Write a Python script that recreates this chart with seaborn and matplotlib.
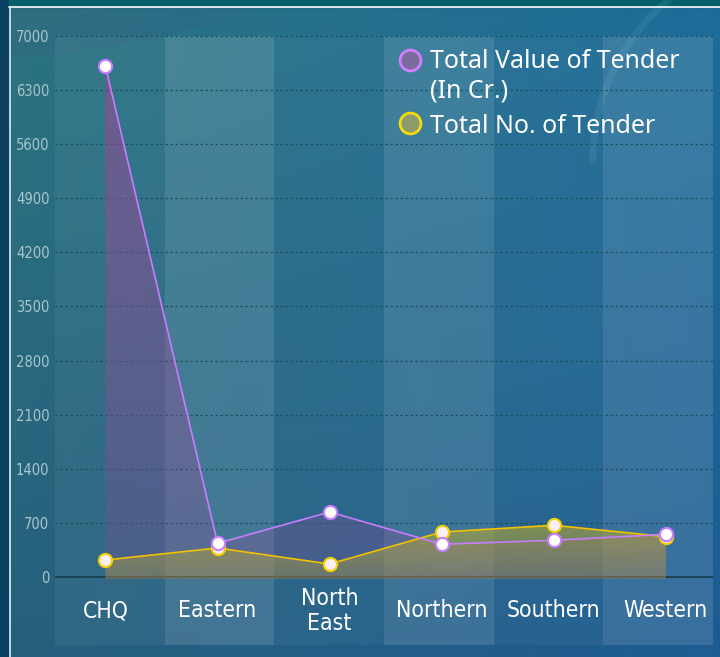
import numpy as np
import pandas as pd
import matplotlib
matplotlib.use('Agg')
import matplotlib.pyplot as plt
import matplotlib.font_manager as fm
import seaborn as sns
from matplotlib.patches import Rectangle, Circle, Arc

# data
regions = ['CHQ', 'Eastern', 'North\nEast', 'Northern', 'Southern', 'Western']
total_value = [6610, 436, 841, 423, 475, 552]
total_count = [220, 375, 168, 582, 669, 522]
y_ticks = list(range(0, 7001, 700))
legend_labels = ['Total Value of Tender', '(In Cr.)', 'Total No. of Tender']

df = pd.DataFrame({'pos': range(len(regions)), 'region': regions,
                   'value': total_value, 'count': total_count})

sns.set_style('white')
plt.rcParams['font.family'] = ['Noto Sans', 'DejaVu Sans']

# narrow font for the axis labels (DejaVu Sans Condensed if present)
narrow = None
for f in fm.fontManager.ttflist:
    if ('Condensed' in f.name or 'Narrow' in f.name or f.stretch in ('condensed', 'semi-condensed')) \
            and f.style == 'normal' and f.weight in (400, 500, 'normal', 'regular', 'medium'):
        narrow = fm.FontProperties(fname=f.fname)
        break
if narrow is None:
    narrow = fm.FontProperties(family='Roboto')

fig = plt.figure(figsize=(7.2, 6.57), dpi=100)

# background card with a soft gradient (pixel coordinates)
bg = fig.add_axes([0, 0, 1, 1])
bg.set_xlim(0, 720)
bg.set_ylim(657, 0)
bg.set_axis_off()
bg.add_patch(Rectangle((0, 0), 720, 657, color='#0b3f5f', zorder=0))
bg.add_patch(Rectangle((9, 0), 711, 7, color='#06606a', zorder=0))
tl = np.array([0x2c, 0x74, 0x80]) / 255
tr = np.array([0x1d, 0x6c, 0x9a]) / 255
bl = np.array([0x26, 0x5f, 0x7c]) / 255
br = np.array([0x1e, 0x5c, 0x92]) / 255
u = np.linspace(0, 1, 200)[None, :, None]
v = np.linspace(0, 1, 200)[:, None, None]
grad = (1 - v) * ((1 - u) * tl + u * tr) + v * ((1 - u) * bl + u * br)
bg.imshow(grad, extent=(9, 720, 657, 7), aspect='auto', zorder=1, interpolation='bilinear')
# decorative shapes
bg.add_patch(Circle((-50, -900), 960, facecolor='#3c5a85', alpha=0.2, lw=0, zorder=1.5))
bg.add_patch(Rectangle((0, 0), 9, 657, color='#0b3f5f', zorder=1.55))
bg.add_patch(Rectangle((9, 0), 711, 7, color='#06606a', zorder=1.55))
bg.add_patch(Arc((800, 160), 414, 414, theta1=180, theta2=240, color='#6ab8c8',
                 alpha=0.14, lw=5, zorder=1.6, capstyle='round'))
bg.plot([9, 720], [7, 7], color='white', lw=1.2, zorder=2)
bg.plot([9.5, 9.5], [7, 657], color='#dfeef5', lw=1.2, zorder=2)

# main chart
ax = fig.add_axes([55 / 720, 12 / 657, 658 / 720, 609 / 657])
ax.patch.set_alpha(0)

edges = np.linspace(-0.45, 5.42, len(regions) + 1)
band_alpha = [0.05, 0.14, 0.04, 0.13, 0.04, 0.12]
for i in range(len(regions)):
    ax.axvspan(edges[i], edges[i + 1], color='white', alpha=band_alpha[i], lw=0, zorder=0)

ax.set_yticks(y_ticks)
ax.set_xticks([])
ax.grid(axis='y', linestyle=(0, (2, 2)), color='#1c5260', lw=0.9, zorder=1)
ax.axhline(0, color='#17404f', lw=1.2, zorder=1.5)
for s in ax.spines.values():
    s.set_visible(False)
ax.tick_params(axis='y', length=0, pad=4, labelcolor='#a9c6ca')
for t in ax.get_yticklabels():
    t.set_fontproperties(narrow)
    t.set_fontsize(10.5)


def gradient_fill(vals, rgb, a_top, a_bot, z):
    poly = ax.fill_between(df['pos'], vals, -25, color='none', lw=0)
    img = np.zeros((100, 1, 4))
    img[:, :, :3] = np.array(matplotlib.colors.to_rgb(rgb))
    img[:, :, 3] = np.linspace(a_top, a_bot, 100)[:, None]
    im = ax.imshow(img, extent=(-0.45, 5.42, -25, max(vals)), aspect='auto', zorder=z,
                   interpolation='bilinear', origin='upper')
    im.set_clip_path(poly.get_paths()[0], transform=ax.transData)


gradient_fill(total_value, '#a44596', 0.55, 0.22, 2)
gradient_fill(total_count, '#bcaa2c', 0.6, 0.3, 2.1)

sns.lineplot(data=df, x='pos', y='count', ax=ax, color='#f2c200', lw=1.2,
             marker='o', markersize=9.5, markerfacecolor='#fbeef8',
             markeredgecolor='#f5d000', markeredgewidth=1.5, zorder=4)
sns.lineplot(data=df, x='pos', y='value', ax=ax, color='#c77dff', lw=1.2,
             marker='o', markersize=9.5, markerfacecolor='white',
             markeredgecolor='#c77dff', markeredgewidth=1.5, zorder=5)
ax.set_xlabel('')
ax.set_ylabel('')
ax.set_xlim(-0.45, 5.42)
ax.set_ylim(-880, 7000)

for i, name in enumerate(regions):
    ax.text(i, -440, name, ha='center', va='center', color='white',
            fontproperties=narrow, fontsize=16.5, linespacing=1.15, zorder=6)

# legend layer on top, drawn by hand so the marker sits on the first text line
top = fig.add_axes([0, 0, 1, 1])
top.set_xlim(0, 720)
top.set_ylim(657, 0)
top.set_axis_off()
top.patch.set_alpha(0)
top.plot([410], [60], marker='o', ms=15, mfc='#7b6b9c', mec='#cf7fff', mew=2)
top.plot([410], [123], marker='o', ms=15, mfc='#8c9a6c', mec='#f5d90a', mew=2)
for txt, yb in zip(legend_labels, [68, 97, 133]):
    top.text(430, yb, txt, color='white', fontsize=18, va='baseline')

fig.savefig('out.png', dpi=100)
